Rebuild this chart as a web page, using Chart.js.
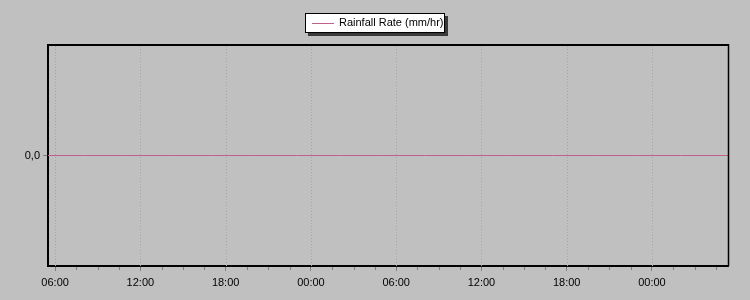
<!DOCTYPE html>
<html>
<head>
<meta charset="utf-8">
<script src="https://cdn.jsdelivr.net/npm/chart.js@4/dist/chart.umd.min.js"></script>
<style>
html,body{margin:0;padding:0;background:#c0c0c0;}
#wrap{position:relative;width:750px;height:300px;}
#legend{position:absolute;left:305px;top:13px;width:138px;height:18px;background:#fff;border:1px solid #000;box-shadow:3px 3px 0 #3a3a3a;font:11px "Liberation Sans",Arial,sans-serif;color:#000;}
#legend .ln{position:absolute;left:6px;top:9px;width:22px;height:1px;background:#c0608c;}
#legend .tx{position:absolute;left:33px;top:2px;white-space:nowrap;}
</style>
</head>
<body>
<div id="wrap">
<canvas id="c" width="750" height="300"></canvas>
<div id="legend"><div class="ln"></div><div class="tx">Rainfall Rate (mm/hr)</div></div>
</div>
<script>
// hours since midnight of day 1
const seriesName = 'Rainfall Rate (mm/hr)';
const timeHours = [5.5, 8, 11, 14, 17, 20, 23, 26, 29, 32, 35, 38, 41, 44, 47, 50, 53.35];
const rainRate  = [0, 0, 0, 0, 0, 0, 0, 0, 0, 0, 0, 0, 0, 0, 0, 0, 0];
const xMajorTicks = [6, 12, 18, 24, 30, 36, 42, 48];
const xTickLabels = ['06:00', '12:00', '18:00', '00:00', '06:00', '12:00', '18:00', '00:00'];
const yTicks = [0];
const yTickLabels = ['0,0'];

const frame = {
  id: 'frame',
  beforeDatasetsDraw(chart) {
    const ctx = chart.ctx, xs = chart.scales.x, area = chart.chartArea;
    ctx.save();
    ctx.strokeStyle = '#a4a4a4';
    ctx.lineWidth = 1;
    ctx.setLineDash([1, 2]);
    xMajorTicks.forEach(v => {
      const px = Math.round(xs.getPixelForValue(v)) + 0.5;
      ctx.beginPath();
      ctx.moveTo(px, area.top + 1);
      ctx.lineTo(px, area.bottom);
      ctx.stroke();
    });
    ctx.restore();
  },
  afterDraw(chart) {
    const ctx = chart.ctx, xs = chart.scales.x, area = chart.chartArea;
    ctx.save();
    ctx.strokeStyle = '#808080';
    ctx.lineWidth = 1;
    for (let v = 6; v <= xs.max; v += 1.5) {
      if (v < xs.min) continue;
      if (Math.abs(v / 6 - Math.round(v / 6)) < 1e-6) continue;
      const px = Math.round(xs.getPixelForValue(v)) + 0.5;
      ctx.beginPath();
      ctx.moveTo(px, area.bottom + 1);
      ctx.lineTo(px, area.bottom + 4);
      ctx.stroke();
    }
    ctx.strokeStyle = '#000';
    ctx.lineWidth = 2;
    ctx.beginPath();
    ctx.moveTo(area.left - 1, area.top);
    ctx.lineTo(area.right + 0.5, area.top);
    ctx.stroke();
    ctx.lineWidth = 1.5;
    ctx.beginPath();
    ctx.moveTo(area.right + 0.5, area.top - 1);
    ctx.lineTo(area.right + 0.5, area.bottom);
    ctx.stroke();
    ctx.restore();
  }
};

new Chart(document.getElementById('c'), {
  type: 'line',
  data: {
    datasets: [{
      label: seriesName,
      data: timeHours.map((t, i) => ({ x: t, y: rainRate[i] })),
      borderColor: '#c0608c',
      borderWidth: 1,
      pointRadius: 0,
      tension: 0
    }]
  },
  options: {
    responsive: false,
    animation: false,
    layout: { padding: { left: 0, right: 22, top: 45, bottom: 0 } },
    plugins: { legend: { display: false }, tooltip: { enabled: false } },
    scales: {
      x: {
        type: 'linear',
        min: 5.5,
        max: 53.35,
        afterFit(s) { s.height = 34; },
        afterBuildTicks(s) { s.ticks = xMajorTicks.map(v => ({ value: v })); },
        ticks: {
          autoSkip: false,
          maxRotation: 0,
          padding: 5,
          color: '#000',
          font: { family: '"Liberation Sans", Arial, sans-serif', size: 11 },
          callback(v) { const i = xMajorTicks.indexOf(v); return i >= 0 ? xTickLabels[i] : ''; }
        },
        grid: {
          drawOnChartArea: false,
          tickColor: '#808080',
          tickLength: 5
        },
        border: { display: true, color: '#000', width: 2 }
      },
      y: {
        min: -1,
        max: 1,
        afterFit(s) { s.width = 48; },
        afterBuildTicks(s) { s.ticks = yTicks.map(v => ({ value: v })); },
        ticks: {
          padding: 3,
          color: '#000',
          font: { family: '"Liberation Sans", Arial, sans-serif', size: 11 },
          callback(v) { const i = yTicks.indexOf(v); return i >= 0 ? yTickLabels[i] : ''; }
        },
        grid: {
          drawOnChartArea: false,
          tickColor: '#808080',
          tickLength: 5
        },
        border: { display: true, color: '#000', width: 2 }
      }
    }
  },
  plugins: [frame]
});
</script>
</body>
</html>
